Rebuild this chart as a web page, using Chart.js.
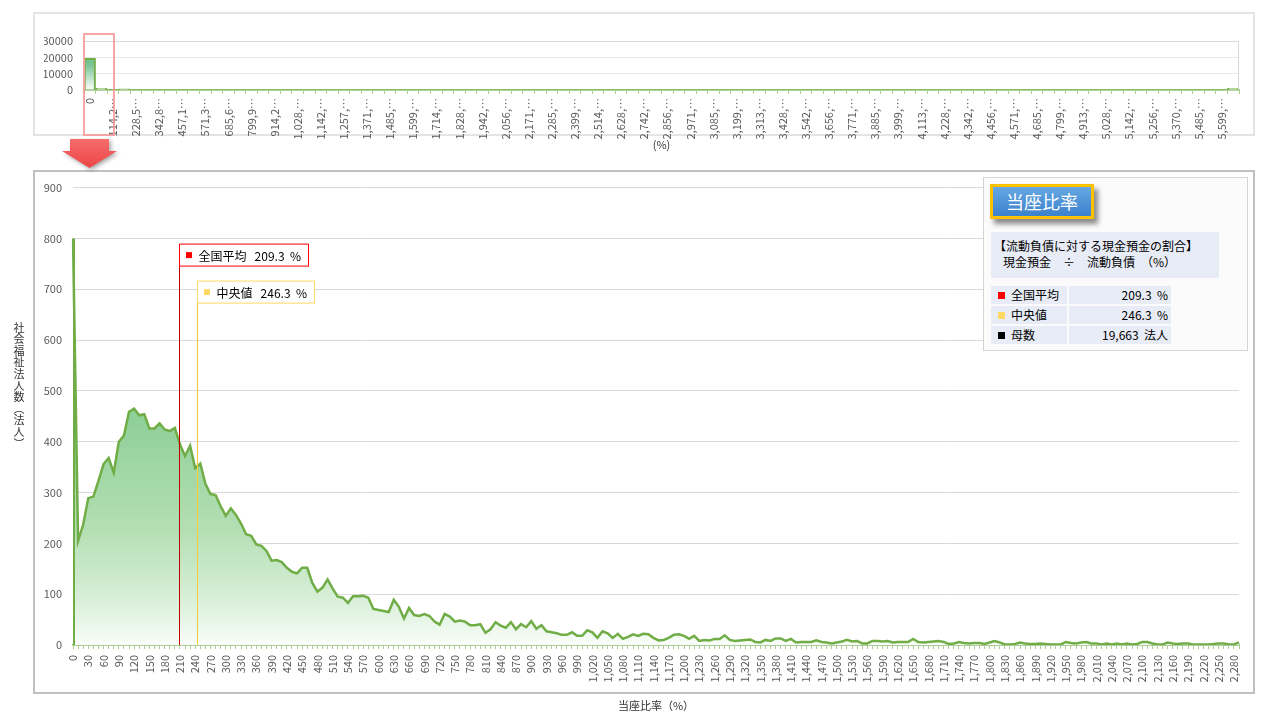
<!DOCTYPE html>
<html lang="ja">
<head>
<meta charset="utf-8">
<title>当座比率</title>
<script src="https://cdn.jsdelivr.net/npm/chart.js@4.4.1/dist/chart.umd.min.js"></script>
<style>
  html, body { margin: 0; padding: 0; background: #fff; }
  body { width: 1280px; height: 720px; position: relative; overflow: hidden;
         font-family: 'Noto Sans CJK JP', 'Noto Sans', sans-serif; color: #000; }
  .frame { position: absolute; box-sizing: border-box; }
  #miniFrame { left: 33px; top: 12px; width: 1222px; height: 124px; border: 2px solid #e4e4e4; }
  #mainFrame { left: 33px; top: 170px; width: 1222px; height: 524px; border: 2px solid #c0c0c0; }
  #miniWrap { position: absolute; left: 0; top: 0; width: 1280px; height: 160px; }
  #mainWrap { position: absolute; left: 0; top: 170px; width: 1280px; height: 550px; }
  #zoomBox { position: absolute; left: 83px; top: 33px; width: 32px; height: 103px;
             border: 2px solid rgba(247, 150, 150, 0.85); box-sizing: border-box; }
  #arrowWrap { position: absolute; left: 62px; top: 139px; width: 58px; height: 32px;
               filter: drop-shadow(2px 2px 2px rgba(0, 0, 0, 0.35)); }
  #arrow { width: 55px; height: 29px; background: linear-gradient(#f66c6c, #ec4545);
           clip-path: polygon(8px 0, 47px 0, 47px 12px, 55px 12px, 27.5px 29px, 0 12px, 8px 12px); }
  #yTitle { position: absolute; left: 13px; top: 322px; writing-mode: vertical-rl;
            font-size: 11px; line-height: 12px; letter-spacing: 0.6px; color: #333; }

  /* ── Info panel ─────────────────────────────── */
  #info { position: absolute; left: 983px; top: 177px; width: 265px; height: 174px;
          box-sizing: border-box; border: 1px solid #d4d4d4; background: #fbfbfb; z-index: 2; }
  #badge { position: absolute; left: 6px; top: 6px; width: 104px; height: 35px; box-sizing: border-box;
           border: 3px solid #ffc000; background: linear-gradient(#66a8e3, #3b81cc);
           color: #fff; font-size: 18px; line-height: 28px; text-align: center;
           box-shadow: 4px 5px 5px rgba(0, 0, 0, 0.45); }
  #desc { position: absolute; left: 7px; top: 54px; width: 228px; height: 46px; box-sizing: border-box;
          background: #e8ecf6; font-size: 12px; line-height: 16px; padding: 6px 0 0 3px; }
  #desc span { display: block; padding-left: 9px; }
  .cell { position: absolute; height: 18px; background: #e8ecf6; font-size: 12px; line-height: 18px;
          box-sizing: border-box; white-space: nowrap; }
  .c1 { left: 7px; width: 76px; padding-left: 20px; }
  .c2 { left: 85px; width: 102px; text-align: right; padding-right: 3px; }
  .mk { position: absolute; left: 7px; top: 6px; width: 7px; height: 7px; }
</style>
</head>
<body>
<div id="miniFrame" class="frame"></div>
<div id="mainFrame" class="frame"></div>
<div id="miniWrap"><canvas id="miniChart"></canvas></div>
<div id="mainWrap"><canvas id="mainChart"></canvas></div>
<div id="zoomBox"></div>
<div id="arrowWrap"><div id="arrow"></div></div>
<div id="yTitle">社会福祉法人数（法人）</div>

<div id="info">
  <div id="badge">当座比率</div>
  <div id="desc">【流動負債に対する現金預金の割合】<span>現金預金　÷　流動負債　（%）</span></div>
  <div id="stats"></div>
</div>

<script>
/* ================================================================
   当座比率 distribution (overview + 0-2,290% detail)
   ================================================================ */

/* ── Data ───────────────────────────────────────────────── */
var BIN_WIDTH = 10;   // % per category in the detail chart

// number of corporations per 10% bin, 0% .. 2,290%
var COUNTS = [
  800, 205, 237, 289, 292, 323, 356, 368, 339, 400,
  412, 459, 465, 452, 454, 426, 426, 436, 424, 421,
  427, 395, 372, 392, 348, 357, 317, 297, 295, 273,
  254, 269, 256, 239, 218, 215, 198, 195, 185, 166,
  167, 163, 152, 144, 141, 152, 152, 122, 105, 113,
  129, 111, 95, 93, 83, 96, 96, 97, 93, 71,
  69, 67, 65, 89, 75, 52, 73, 59, 57, 61,
  57, 46, 40, 61, 56, 46, 48, 46, 39, 39,
  41, 24, 31, 45, 38, 34, 45, 31, 41, 35,
  47, 32, 39, 27, 25, 23, 20, 20, 25, 18,
  18, 29, 25, 14, 27, 23, 14, 22, 12, 16,
  21, 18, 22, 21, 14, 9, 10, 14, 20, 21,
  18, 12, 18, 8, 10, 9, 12, 12, 19, 10,
  8, 9, 10, 11, 6, 5, 10, 8, 13, 13,
  8, 12, 5, 6, 6, 6, 9, 6, 5, 3,
  5, 7, 10, 7, 8, 3, 3, 8, 8, 7,
  8, 5, 6, 6, 6, 12, 6, 5, 6, 7,
  8, 6, 2, 3, 6, 4, 3, 4, 4, 2,
  5, 8, 5, 1, 1, 2, 5, 3, 2, 2,
  3, 2, 1, 1, 1, 6, 4, 3, 5, 6,
  3, 3, 1, 3, 1, 3, 1, 3, 1, 2,
  6, 6, 3, 1, 1, 5, 3, 2, 3, 3,
  1, 1, 1, 1, 2, 3, 3, 1, 1, 5
];

// overview histogram, 100 wide bins
var MINI_COUNTS = [
  19400, 1000, 0, 700, 0, 0, 0, 0, 0, 0, 0, 0, 0, 0, 0, 0, 0, 0, 0, 0,
  0, 0, 0, 0, 0, 0, 0, 0, 0, 0, 0, 0, 0, 0, 0, 0, 0, 0, 0, 0,
  0, 0, 0, 0, 0, 0, 0, 0, 0, 0, 0, 0, 0, 0, 0, 0, 0, 0, 0, 0,
  0, 0, 0, 0, 0, 0, 0, 0, 0, 0, 0, 0, 0, 0, 0, 0, 0, 0, 0, 0,
  0, 0, 0, 0, 0, 0, 0, 0, 0, 0, 0, 0, 0, 0, 0, 0, 0, 0, 0, 1000
];

// labels shown under every second overview bin (truncated as in the source)
var MINI_TICK_LABELS = [
  '0', '114,2…', '228,5…', '342,8…', '457,1…', '571,3…', '685,6…', '799,9…', '914,2…', '1,028,…',
  '1,142,…', '1,257,…', '1,371,…', '1,485,…', '1,599,…', '1,714,…', '1,828,…', '1,942,…', '2,056,…', '2,171,…',
  '2,285,…', '2,399,…', '2,514,…', '2,628,…', '2,742,…', '2,856,…', '2,971,…', '3,085,…', '3,199,…', '3,313,…',
  '3,428,…', '3,542,…', '3,656,…', '3,771,…', '3,885,…', '3,999,…', '4,113,…', '4,228,…', '4,342,…', '4,456,…',
  '4,571,…', '4,685,…', '4,799,…', '4,913,…', '5,028,…', '5,142,…', '5,256,…', '5,370,…', '5,485,…', '5,599,…'
];

var MARKER_NAMES  = ['全国平均', '中央値'];
var MARKER_VALUES = [209.3, 246.3];

var STAT_NAMES  = ['全国平均', '中央値', '母数'];
var STAT_VALUES = ['209.3', '246.3', '19,663'];
var STAT_UNITS  = ['%', '%', '法人'];

/* ── Style ──────────────────────────────────────────────── */
var LINE_GREEN = '#70ad47';
var TICK_GREEN = '#a9d18e';
var AXIS_GREEN = '#82bd5c';
var TEXT_GRAY = '#595959';
var MARKER_COLORS = ['#ff0000', '#ffd966'];
var MARKER_LINES  = ['#c00000', '#ffcc33'];
var MARKER_TOPS = [56, 93];           // box offset from the top of the plot
var STAT_COLORS = ['#ff0000', '#ffd966', '#000000'];

Chart.defaults.font.family = "'Noto Sans CJK JP', 'Noto Sans', sans-serif";
Chart.defaults.font.size = 11;
Chart.defaults.color = TEXT_GRAY;

function fmt(n) { return Number(n).toLocaleString('en-US'); }

/* ── Info table ─────────────────────────────────────────── */
(function () {
  var html = '';
  STAT_NAMES.forEach(function (name, i) {
    var top = 108 + i * 20;
    html += '<div class="cell c1" style="top:' + top + 'px"><i class="mk" style="background:' + STAT_COLORS[i] + '"></i>' + name + '</div>' +
            '<div class="cell c2" style="top:' + top + 'px">' + STAT_VALUES[i] + '&nbsp;&nbsp;' + STAT_UNITS[i] + '</div>';
  });
  document.getElementById('stats').innerHTML = html;
})();

/* ── Overview bar chart ─────────────────────────────────── */
var plotBorder = {
  id: 'plotBorder',
  afterDraw: function (chart) {
    var a = chart.chartArea, ctx = chart.ctx;
    ctx.save();
    ctx.strokeStyle = '#d9d9d9';
    ctx.lineWidth = 1;
    ctx.beginPath();
    ctx.moveTo(a.left + 0.5, a.bottom);
    ctx.lineTo(a.left + 0.5, a.top + 0.5);
    ctx.lineTo(a.right - 0.5, a.top + 0.5);
    ctx.lineTo(a.right - 0.5, a.bottom);
    ctx.stroke();
    ctx.restore();
  }
};

function barFill(context) {
  var area = context.chart.chartArea;
  if (!area) return '#8fcf98';
  var g = context.chart.ctx.createLinearGradient(0, area.top, 0, area.bottom);
  g.addColorStop(0, '#5cb77c');
  g.addColorStop(0.5, '#7cc596');
  g.addColorStop(1, '#ffffff');
  return g;
}

new Chart(document.getElementById('miniChart'), {
  type: 'bar',
  data: {
    labels: MINI_COUNTS.map(function (_, i) { return i; }),
    datasets: [{
      data: MINI_COUNTS,
      backgroundColor: barFill,
      borderColor: LINE_GREEN,
      borderWidth: 2,
      borderSkipped: 'bottom',
      barPercentage: 1,
      categoryPercentage: 1
    }]
  },
  options: {
    responsive: true,
    maintainAspectRatio: false,
    animation: false,
    layout: { padding: { left: 44, right: 41, top: 41, bottom: 0 } },
    plugins: { legend: { display: false }, tooltip: { enabled: false } },
    scales: {
      x: {
        grid: { drawOnChartArea: false, tickColor: TICK_GREEN, tickLength: 4 },
        border: { color: AXIS_GREEN, width: 1.5 },
        ticks: {
          autoSkip: false, minRotation: 90, maxRotation: 90, padding: 4,
          callback: function (v, i) { return i % 2 === 0 ? MINI_TICK_LABELS[i / 2] : ''; }
        },
        title: { display: true, text: '(%)', color: '#333', padding: { top: 0, bottom: 9 } },
        afterFit: function (s) { s.height = 70; }
      },
      y: {
        min: 0, max: 30000,
        ticks: { stepSize: 10000, padding: 11, callback: function (v) { return v; } },
        grid: { color: '#e8e8e8', drawTicks: false },
        border: { display: false },
        afterFit: function (s) { s.width = 40; }
      }
    }
  },
  plugins: [plotBorder]
});

/* ── Detail area chart ──────────────────────────────────── */
function areaFill(context) {
  var area = context.chart.chartArea;
  if (!area) return '#8fcf98';
  var g = context.chart.ctx.createLinearGradient(0, area.top, 0, area.bottom);
  g.addColorStop(0, '#78c487');
  g.addColorStop(0.5, '#8fcf98');
  g.addColorStop(0.75, '#b4dfb4');
  g.addColorStop(0.9, '#d8efd8');
  g.addColorStop(1, '#f9fdf9');
  return g;
}

var markers = {
  id: 'markers',
  afterDatasetsDraw: function (chart) {
    var ctx = chart.ctx, a = chart.chartArea, xs = chart.scales.x;
    var p0 = chart.getDatasetMeta(0).data[0];
    ctx.save();
    // left edge of the area
    ctx.strokeStyle = LINE_GREEN;
    ctx.lineWidth = 2;
    ctx.beginPath();
    ctx.moveTo(p0.x + 1, p0.y);
    ctx.lineTo(p0.x + 1, a.bottom);
    ctx.stroke();

    ctx.font = "12px 'Noto Sans CJK JP', sans-serif";
    ctx.textBaseline = 'middle';
    MARKER_VALUES.forEach(function (val, i) {
      var px = Math.round(xs.getPixelForValue(val / BIN_WIDTH)) - 0.5;
      var top = a.top + MARKER_TOPS[i] + 0.5;
      var text = MARKER_NAMES[i] + '   ' + val.toFixed(1) + '  %';
      var w = Math.round(ctx.measureText(text).width) + 27;
      var h = 22;
      ctx.strokeStyle = MARKER_LINES[i];
      ctx.lineWidth = 1;
      ctx.beginPath();
      ctx.moveTo(px, top + h);
      ctx.lineTo(px, a.bottom);
      ctx.stroke();
      ctx.strokeStyle = MARKER_COLORS[i];
      ctx.fillStyle = '#fff';
      ctx.fillRect(px, top, w, h);
      ctx.strokeRect(px, top, w, h);
      ctx.fillStyle = MARKER_COLORS[i];
      ctx.fillRect(px + 6.5, top + 8, 6, 6);
      ctx.fillStyle = '#000';
      ctx.fillText(text, px + 19, top + h / 2 + 1);
    });
    ctx.restore();
  }
};

new Chart(document.getElementById('mainChart'), {
  type: 'line',
  data: {
    labels: COUNTS.map(function (_, i) { return i * BIN_WIDTH; }),
    datasets: [{
      data: COUNTS,
      borderColor: LINE_GREEN,
      borderWidth: 2.5,
      backgroundColor: areaFill,
      fill: 'origin',
      pointRadius: 0,
      tension: 0
    }]
  },
  options: {
    responsive: true,
    maintainAspectRatio: false,
    animation: false,
    layout: { padding: { left: 33, right: 41, top: 16, bottom: 0 } },
    plugins: { legend: { display: false }, tooltip: { enabled: false } },
    scales: {
      x: {
        grid: { drawOnChartArea: false, tickColor: TICK_GREEN, tickLength: 4 },
        border: { color: AXIS_GREEN, width: 1.5 },
        ticks: {
          autoSkip: false, minRotation: 90, maxRotation: 90, padding: 6,
          callback: function (v, i) { return i % 3 === 0 ? fmt(this.getLabelForValue(v)) : ''; }
        },
        title: { display: true, text: '当座比率（%）', color: '#333', padding: { top: 0, bottom: 8 } },
        afterFit: function (s) { s.height = 75; }
      },
      y: {
        min: 0, max: 900,
        ticks: { stepSize: 100, padding: 11 },
        grid: { color: '#d9d9d9', drawTicks: false },
        border: { display: false },
        afterFit: function (s) { s.width = 40; }
      }
    }
  },
  plugins: [markers]
});
</script>
</body>
</html>
